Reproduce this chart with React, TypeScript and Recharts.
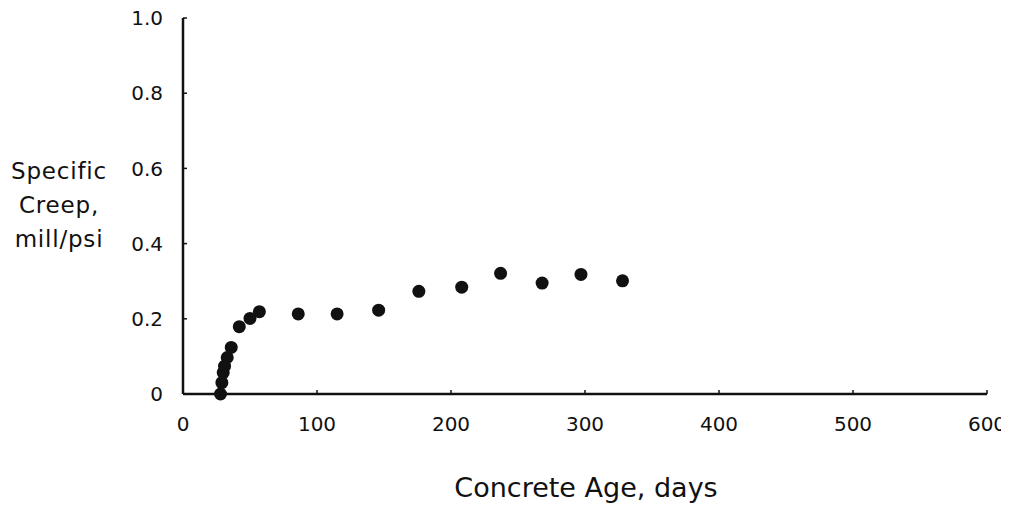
import { ScatterChart, Scatter, XAxis, YAxis } from "recharts";

// concrete age (days) and specific creep (millionths per psi)
const ageDays = [28, 29, 30, 31, 33, 36, 42, 50, 57, 86, 115, 146, 176, 208, 237, 268, 297, 328];
const specificCreep = [
  0, 0.03, 0.057, 0.074, 0.097, 0.124, 0.179, 0.201, 0.219, 0.213, 0.213, 0.223, 0.273, 0.284,
  0.321, 0.295, 0.318, 0.301,
];

const xTicks = [0, 100, 200, 300, 400, 500, 600];
const yTicks = [0, 0.2, 0.4, 0.6, 0.8, 1.0];
const yLabelLines = ["Specific", "Creep,", "mill/psi"];
const xLabel = "Concrete Age, days";

const font = "'DejaVu Sans', sans-serif";
const ink = "#111";

const data = ageDays.map((age, i) => ({ age, creep: specificCreep[i] }));

const Dot = (props: any) => {
  const { cx, cy } = props;
  if (cx == null || cy == null) return null;
  return <circle cx={cx} cy={cy} r={6.5} fill={ink} />;
};

export default function App() {
  // pull the chart over the body margin so svg coords match the page
  return (
    <div style={{ width: 1009, height: 509, margin: "-8px 0 0 -8px", background: "#fff" }}>
      <ScatterChart
        width={1009}
        height={509}
        margin={{ top: 18, right: 22, bottom: 0, left: 0 }}
      >
        <XAxis
          type="number"
          dataKey="age"
          domain={[0, 600]}
          ticks={xTicks}
          height={115}
          interval={0}
          axisLine={{ stroke: ink, strokeWidth: 2.5 }}
          tickLine={{ stroke: ink, strokeWidth: 1.5 }}
          tickSize={-4}
          tickMargin={27}
          tick={{ fill: ink, fontSize: 20, fontFamily: font }}
          label={{
            content: () => (
              <text
                x={586}
                y={497}
                textAnchor="middle"
                fontSize={27}
                fontFamily={font}
                fill={ink}
              >
                {xLabel}
              </text>
            ),
          }}
        />
        <YAxis
          type="number"
          dataKey="creep"
          domain={[0, 1]}
          ticks={yTicks}
          width={183}
          interval={0}
          axisLine={{ stroke: ink, strokeWidth: 2.5 }}
          tickLine={{ stroke: ink, strokeWidth: 1.5 }}
          tickSize={-4}
          tickMargin={24}
          tickFormatter={(v: number) => (v === 0 ? "0" : v.toFixed(1))}
          tick={{ fill: ink, fontSize: 20, fontFamily: font }}
          label={{
            content: () => (
              <g>
                {yLabelLines.map((line, i) => (
                  <text
                    key={line}
                    x={59}
                    y={179 + i * 34}
                    textAnchor="middle"
                    fontSize={23}
                    letterSpacing={0.8}
                    fontFamily={font}
                    fill={ink}
                  >
                    {line}
                  </text>
                ))}
              </g>
            ),
          }}
        />
        <Scatter data={data} shape={Dot} isAnimationActive={false} />
      </ScatterChart>
    </div>
  );
}
